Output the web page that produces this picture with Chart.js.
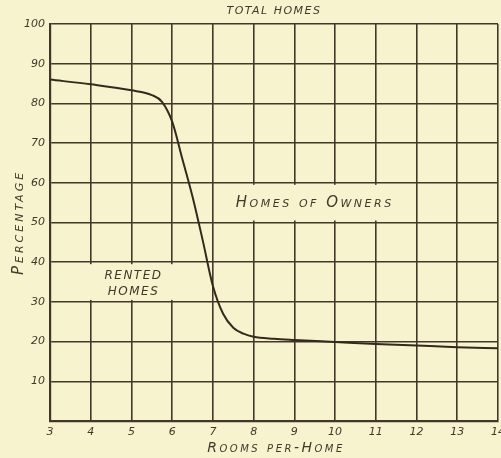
<!DOCTYPE html>
<html>
<head>
<meta charset="utf-8">
<script src="https://cdn.jsdelivr.net/npm/chart.js@4.4.0/dist/chart.umd.min.js"></script>
<style>
  html, body { margin: 0; padding: 0; background: #f7f3cf; }
  canvas { display: block; }
</style>
</head>
<body>
<canvas id="grafico" width="501" height="458"></canvas>
<script>
// Porcentaje de hogares alquilados según número de habitaciones
const habitaciones = [3, 4, 5, 5.5, 5.75, 6, 6.25, 6.5, 6.75, 7, 7.25, 7.5, 7.75, 8, 8.5, 9, 10, 11, 12, 13, 14];
const alquilados = [86, 84.8, 83.3, 82.1, 80.4, 75.4, 66, 56.5, 45.5, 34, 27, 23.5, 22, 21.2, 20.7, 20.4, 19.9, 19.4, 19, 18.6, 18.3];
const ticksX = [3, 4, 5, 6, 7, 8, 9, 10, 11, 12, 13, 14];
const ticksY = [10, 20, 30, 40, 50, 60, 70, 80, 90, 100];

const FONDO = '#f7f3cf';
const TINTA = '#45362a';
const FUENTE = '"DejaVu Sans", sans-serif';

// Fondo de papel, títulos de ejes y rótulos dentro del área del gráfico
const rotulos = {
    id: 'rotulos',
    beforeDraw(chart) {
        const ctx = chart.ctx;
        ctx.save();
        ctx.fillStyle = FONDO;
        ctx.fillRect(0, 0, chart.width, chart.height);
        ctx.restore();
    },
    beforeDatasetsDraw(chart) {
        const { ctx, scales: { x, y } } = chart;
        ctx.save();
        // huecos en la cuadrícula donde van los rótulos
        ctx.fillStyle = FONDO;
        ctx.fillRect(x.getPixelForValue(7) + 2, y.getPixelForValue(60) + 2,
            x.getPixelForValue(12) - x.getPixelForValue(7) - 4, y.getPixelForValue(50) - y.getPixelForValue(60) - 4);
        ctx.fillRect(x.getPixelForValue(3) + 2, y.getPixelForValue(40) + 2,
            x.getPixelForValue(7) - x.getPixelForValue(3) - 4, y.getPixelForValue(30) - y.getPixelForValue(40) - 4);

        ctx.fillStyle = TINTA;
        ctx.textAlign = 'center';
        ctx.textBaseline = 'middle';

        ctx.font = 'italic small-caps 15px ' + FUENTE;
        ctx.letterSpacing = '2.5px';
        ctx.fillText('Homes of Owners', (x.getPixelForValue(7) + x.getPixelForValue(12)) / 2, y.getPixelForValue(55));

        ctx.font = 'italic 12px ' + FUENTE;
        ctx.letterSpacing = '1.5px';
        const cx = x.getPixelForValue(5.05);
        ctx.fillText('RENTED', cx, y.getPixelForValue(36.5));
        ctx.fillText('HOMES', cx, y.getPixelForValue(32.5));

        ctx.font = 'italic 11px ' + FUENTE;
        ctx.letterSpacing = '1.5px';
        ctx.fillText('TOTAL HOMES', (x.left + x.right) / 2, 11);

        // títulos de los ejes
        ctx.font = 'italic small-caps 14px ' + FUENTE;
        ctx.letterSpacing = '2.5px';
        ctx.fillText('Rooms per-Home', (x.left + x.right) / 2 + 2, chart.height - 10);
        ctx.font = 'italic small-caps 15px ' + FUENTE;
        ctx.letterSpacing = '3px';
        ctx.translate(19, (y.top + y.bottom) / 2);
        ctx.rotate(-Math.PI / 2);
        ctx.fillText('Percentage', 0, 0);
        ctx.restore();
    }
};

const grafico = new Chart(document.getElementById('grafico'), {
    type: 'line',
    data: {
        datasets: [{
            data: habitaciones.map((h, i) => ({ x: h, y: alquilados[i] })),
            borderColor: '#35291d',
            borderWidth: 2,
            pointRadius: 0,
            cubicInterpolationMode: 'monotone',
            fill: false
        }]
    },
    options: {
        responsive: false,
        animation: false,
        devicePixelRatio: 1,
        layout: { padding: { top: 24, right: 3, left: 0, bottom: 0 } },
        plugins: {
            legend: { display: false },
            tooltip: { enabled: false }
        },
        scales: {
            x: {
                type: 'linear',
                min: 3,
                max: 14,
                afterBuildTicks: (s) => { s.ticks = ticksX.map(v => ({ value: v })); },
                afterFit: (s) => { s.height = 37; s.paddingLeft = 0; s.paddingRight = 0; },
                ticks: {
                    color: TINTA,
                    padding: 5,
                    font: { family: FUENTE, style: 'italic', size: 11 }
                },
                grid: { color: TINTA, lineWidth: 1.6, drawTicks: false },
                border: { color: TINTA, width: 2.2 }
            },
            y: {
                min: 0,
                max: 100,
                afterBuildTicks: (s) => { s.ticks = ticksY.map(v => ({ value: v })); },
                afterFit: (s) => { s.width = 50; s.paddingTop = 0; s.paddingBottom = 0; },
                ticks: {
                    color: TINTA,
                    padding: 5,
                    font: { family: FUENTE, style: 'italic', size: 11 }
                },
                grid: { color: TINTA, lineWidth: 1.6, drawTicks: false },
                border: { color: TINTA, width: 2.2 }
            }
        }
    },
    plugins: [rotulos]
});
</script>
</body>
</html>
